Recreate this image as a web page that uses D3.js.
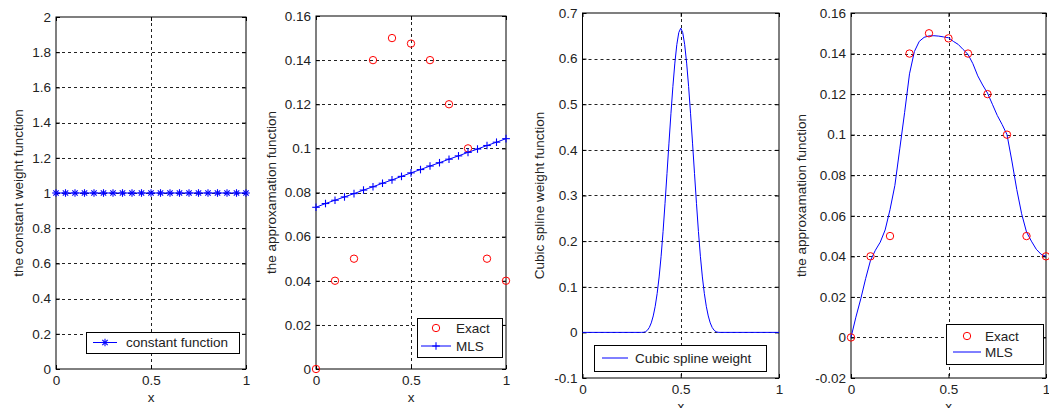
<!DOCTYPE html>
<html>
<head>
<meta charset="utf-8">
<script src="https://cdn.jsdelivr.net/npm/d3@7"></script>
<style>
  html, body { margin: 0; padding: 0; background: #fff; }
  svg { display: block; font-family: "Liberation Sans", Arial, sans-serif; }
</style>
</head>
<body>
<div id="chart"></div>
<script>
// x ticks shared by all four panels
const xTicks = [0, 0.5, 1];

// panel 1: constant weight function
const constX = [0, 0.05, 0.1, 0.15, 0.2, 0.25, 0.3, 0.35, 0.4, 0.45, 0.5, 0.55, 0.6, 0.65, 0.7, 0.75, 0.8, 0.85, 0.9, 0.95, 1];
const constW = [1, 1, 1, 1, 1, 1, 1, 1, 1, 1, 1, 1, 1, 1, 1, 1, 1, 1, 1, 1, 1];
const ticksConst = [0, 0.2, 0.4, 0.6, 0.8, 1, 1.2, 1.4, 1.6, 1.8, 2];

// exact values at the nodes (panels 2 and 4)
const nodeX = [0, 0.1, 0.2, 0.3, 0.4, 0.5, 0.6, 0.7, 0.8, 0.9, 1];
const exactU = [0, 0.04, 0.05, 0.14, 0.15, 0.1475, 0.14, 0.12, 0.1, 0.05, 0.04];

// panel 2: MLS with the constant weight
const mlsConstX = constX;
const mlsConstU = [0.0733, 0.0750, 0.0765, 0.0780, 0.0795, 0.0811, 0.0826, 0.0842, 0.0857, 0.0873, 0.0889,
  0.0904, 0.0920, 0.0935, 0.0951, 0.0966, 0.0982, 0.0997, 0.1013, 0.1028, 0.1044];
const ticksApprox = [0, 0.02, 0.04, 0.06, 0.08, 0.1, 0.12, 0.14, 0.16];

// panel 3: cubic spline weight
const splineX = [0, 0.30, 0.31, 0.32, 0.33, 0.34, 0.35, 0.36, 0.37, 0.38, 0.39, 0.40, 0.41, 0.42, 0.43, 0.44,
  0.45, 0.46, 0.47, 0.48, 0.49, 0.50, 0.51, 0.52, 0.53, 0.54, 0.55, 0.56, 0.57, 0.58, 0.59, 0.60, 0.61, 0.62,
  0.63, 0.64, 0.65, 0.66, 0.67, 0.68, 0.69, 0.70, 1];
const splineW = [0, 0, 0.0002, 0.0013, 0.0045, 0.0107, 0.0208, 0.036, 0.0572, 0.0853, 0.1215, 0.1667, 0.2212,
  0.2827, 0.3482, 0.4147, 0.4792, 0.5387, 0.5902, 0.6307, 0.6572, 0.6667, 0.6572, 0.6307, 0.5902, 0.5387,
  0.4792, 0.4147, 0.3482, 0.2827, 0.2212, 0.1667, 0.1215, 0.0853, 0.0572, 0.036, 0.0208, 0.0107, 0.0045,
  0.0013, 0.0002, 0, 0];
const ticksSpline = [-0.1, 0, 0.1, 0.2, 0.3, 0.4, 0.5, 0.6, 0.7];

// panel 4: MLS with the cubic spline weight
const mlsSplineX = [0, 0.025, 0.05, 0.075, 0.1, 0.125, 0.15, 0.175, 0.2, 0.225, 0.25, 0.275, 0.3, 0.325, 0.35,
  0.375, 0.4, 0.425, 0.45, 0.475, 0.5, 0.525, 0.55, 0.575, 0.6, 0.625, 0.65, 0.675, 0.7, 0.725, 0.75, 0.775,
  0.8, 0.825, 0.85, 0.875, 0.9, 0.925, 0.95, 0.975, 1];
const mlsSplineU = [0, 0.010, 0.019, 0.029, 0.038, 0.043, 0.047, 0.053, 0.063, 0.075, 0.093, 0.111, 0.130,
  0.141, 0.146, 0.148, 0.1487, 0.1488, 0.1486, 0.1482, 0.1478, 0.146, 0.1445, 0.142, 0.1396, 0.135, 0.129,
  0.1245, 0.1205, 0.115, 0.1095, 0.105, 0.100, 0.087, 0.073, 0.061, 0.052, 0.0475, 0.0435, 0.041, 0.040];
const ticksMls = [-0.02, 0, 0.02, 0.04, 0.06, 0.08, 0.1, 0.12, 0.14, 0.16];

const zip = (xs, ys) => xs.map((v, i) => ({ x: v, y: ys[i] }));
const fmt = v => String(+v.toFixed(4));
const BLUE = '#0000ff';
const RED = '#ff0000';
const FS = 13.5;

const W = 1049, H = 408;
const svg = d3.select('#chart').append('svg').attr('width', W).attr('height', H);
svg.append('rect').attr('width', W).attr('height', H).attr('fill', '#fff');

function drawMarker(g, type, cx, cy) {
  if (type === 'circle') {
    g.append('circle').attr('cx', cx).attr('cy', cy).attr('r', 3.7)
      .attr('fill', 'none').attr('stroke', RED).attr('stroke-width', 1);
    return;
  }
  const s = 3.8, d = 2.7;
  const segs = [[-s, 0, s, 0], [0, -s, 0, s]];
  if (type === 'star') segs.push([-d, -d, d, d], [-d, d, d, -d]);
  segs.forEach(([a, b, c, e]) => {
    g.append('line').attr('x1', cx + a).attr('y1', cy + b).attr('x2', cx + c).attr('y2', cy + e)
      .attr('stroke', BLUE).attr('stroke-width', 1.1);
  });
}

const panels = [
  {
    left: 56, right: 246, top: 17, bottom: 369, yDomain: [0, 2], yTicks: ticksConst,
    ylabel: 'the constant weight function', ylabelX: 18,
    series: [{ data: zip(constX, constW), line: true, marker: 'star' }],
    legend: { box: [86, 332, 239, 353], textX: 126, line: [93, 117],
      rows: [{ y: 342.5, label: 'constant function', line: true, marker: 'star' }] },
  },
  {
    left: 316, right: 506, top: 16, bottom: 369, yDomain: [0, 0.16], yTicks: ticksApprox,
    ylabel: 'the approxamation function', ylabelX: 271.5,
    series: [
      { data: zip(nodeX, exactU), line: false, marker: 'circle' },
      { data: zip(mlsConstX, mlsConstU), line: true, marker: 'plus' },
    ],
    legend: { box: [417, 318, 502, 357], textX: 456, line: [421, 451],
      rows: [
        { y: 328, label: 'Exact', line: false, marker: 'circle' },
        { y: 346, label: 'MLS', line: true, marker: 'plus' },
      ] },
  },
  {
    left: 582.5, right: 779, top: 13, bottom: 378, yDomain: [-0.1, 0.7], yTicks: ticksSpline,
    ylabel: 'Cubic spline weight function', ylabelX: 539,
    series: [{ data: zip(splineX, splineW), line: true, marker: null }],
    legend: { box: [594, 345, 766, 371], textX: 635, line: [602, 628],
      rows: [{ y: 358, label: 'Cubic spline weight', line: true, marker: null }] },
  },
  {
    left: 851, right: 1046, top: 13, bottom: 378, yDomain: [-0.02, 0.16], yTicks: ticksMls,
    ylabel: 'the approxamation function', ylabelX: 801,
    series: [
      { data: zip(mlsSplineX, mlsSplineU), line: true, marker: null },
      { data: zip(nodeX, exactU), line: false, marker: 'circle' },
    ],
    legend: { box: [946, 324, 1043, 364], textX: 985, line: [953, 981],
      rows: [
        { y: 336, label: 'Exact', line: false, marker: 'circle' },
        { y: 352, label: 'MLS', line: true, marker: null },
      ] },
  },
];

function styleAxis(sel) {
  sel.select('.domain').remove();
  sel.selectAll('.tick line').attr('stroke', '#000');
  sel.selectAll('text').attr('font-size', FS).attr('fill', '#222')
    .attr('font-family', '"Liberation Sans", Arial, sans-serif');
}

panels.forEach((p) => {
  const x = d3.scaleLinear().domain([0, 1]).range([p.left, p.right]);
  const y = d3.scaleLinear().domain(p.yDomain).range([p.bottom, p.top]);
  const g = svg.append('g');

  // dotted grid
  const grid = g.append('g').attr('stroke', '#222').attr('stroke-width', 1).attr('stroke-dasharray', '3,3');
  p.yTicks.filter(v => v > p.yDomain[0] && v < p.yDomain[1]).forEach((v) => {
    grid.append('line').attr('x1', p.left).attr('x2', p.right)
      .attr('y1', Math.round(y(v)) + 0.5).attr('y2', Math.round(y(v)) + 0.5);
  });
  xTicks.filter(v => v > 0 && v < 1).forEach((v) => {
    grid.append('line').attr('y1', p.top).attr('y2', p.bottom)
      .attr('x1', Math.round(x(v)) + 0.5).attr('x2', Math.round(x(v)) + 0.5);
  });

  // axes with inward ticks, MATLAB style
  g.append('g').attr('transform', `translate(${p.left},0)`)
    .call(d3.axisLeft(y).tickValues(p.yTicks).tickFormat(fmt).tickSizeInner(-4).tickSizeOuter(0).tickPadding(5))
    .call(styleAxis);
  g.append('g').attr('transform', `translate(${p.right},0)`)
    .call(d3.axisRight(y).tickValues(p.yTicks).tickFormat('').tickSizeInner(-4).tickSizeOuter(0))
    .call(styleAxis);
  g.append('g').attr('transform', `translate(0,${p.bottom})`)
    .call(d3.axisBottom(x).tickValues(xTicks).tickFormat(fmt).tickSizeInner(-4).tickSizeOuter(0).tickPadding(6))
    .call(styleAxis);
  g.append('g').attr('transform', `translate(0,${p.top})`)
    .call(d3.axisTop(x).tickValues(xTicks).tickFormat('').tickSizeInner(-4).tickSizeOuter(0))
    .call(styleAxis);

  g.append('rect').attr('x', p.left).attr('y', p.top)
    .attr('width', p.right - p.left).attr('height', p.bottom - p.top)
    .attr('fill', 'none').attr('stroke', '#000').attr('stroke-width', 1);

  // axis titles
  g.append('text').attr('x', (p.left + p.right) / 2).attr('y', p.bottom + 33)
    .attr('text-anchor', 'middle').attr('font-size', FS).attr('fill', '#222').text('x');
  g.append('text')
    .attr('transform', `translate(${p.ylabelX},${(p.top + p.bottom) / 2}) rotate(-90)`)
    .attr('text-anchor', 'middle').attr('dy', '0.35em')
    .attr('font-size', FS).attr('fill', '#222').text(p.ylabel);

  // series
  const line = d3.line().x(d => x(d.x)).y(d => y(d.y));
  p.series.forEach((s) => {
    if (s.line) {
      g.append('path').datum(s.data).attr('d', line)
        .attr('fill', 'none').attr('stroke', BLUE).attr('stroke-width', 1);
    }
    if (s.marker) {
      const mg = g.append('g');
      s.data.forEach(d => drawMarker(mg, s.marker, x(d.x), y(d.y)));
    }
  });

  // legend
  const L = p.legend;
  const lg = g.append('g');
  lg.append('rect').attr('x', L.box[0] + 0.5).attr('y', L.box[1] + 0.5)
    .attr('width', L.box[2] - L.box[0]).attr('height', L.box[3] - L.box[1])
    .attr('fill', '#fff').attr('stroke', '#000').attr('stroke-width', 1);
  L.rows.forEach((r) => {
    const mid = (L.line[0] + L.line[1]) / 2;
    if (r.line) {
      lg.append('line').attr('x1', L.line[0]).attr('x2', L.line[1]).attr('y1', r.y).attr('y2', r.y)
        .attr('stroke', BLUE).attr('stroke-width', 1);
    }
    if (r.marker) drawMarker(lg, r.marker, mid, r.y);
    lg.append('text').attr('x', L.textX).attr('y', r.y).attr('dy', '0.35em')
      .attr('font-size', FS).attr('fill', '#222').text(r.label);
  });
});
</script>
</body>
</html>
